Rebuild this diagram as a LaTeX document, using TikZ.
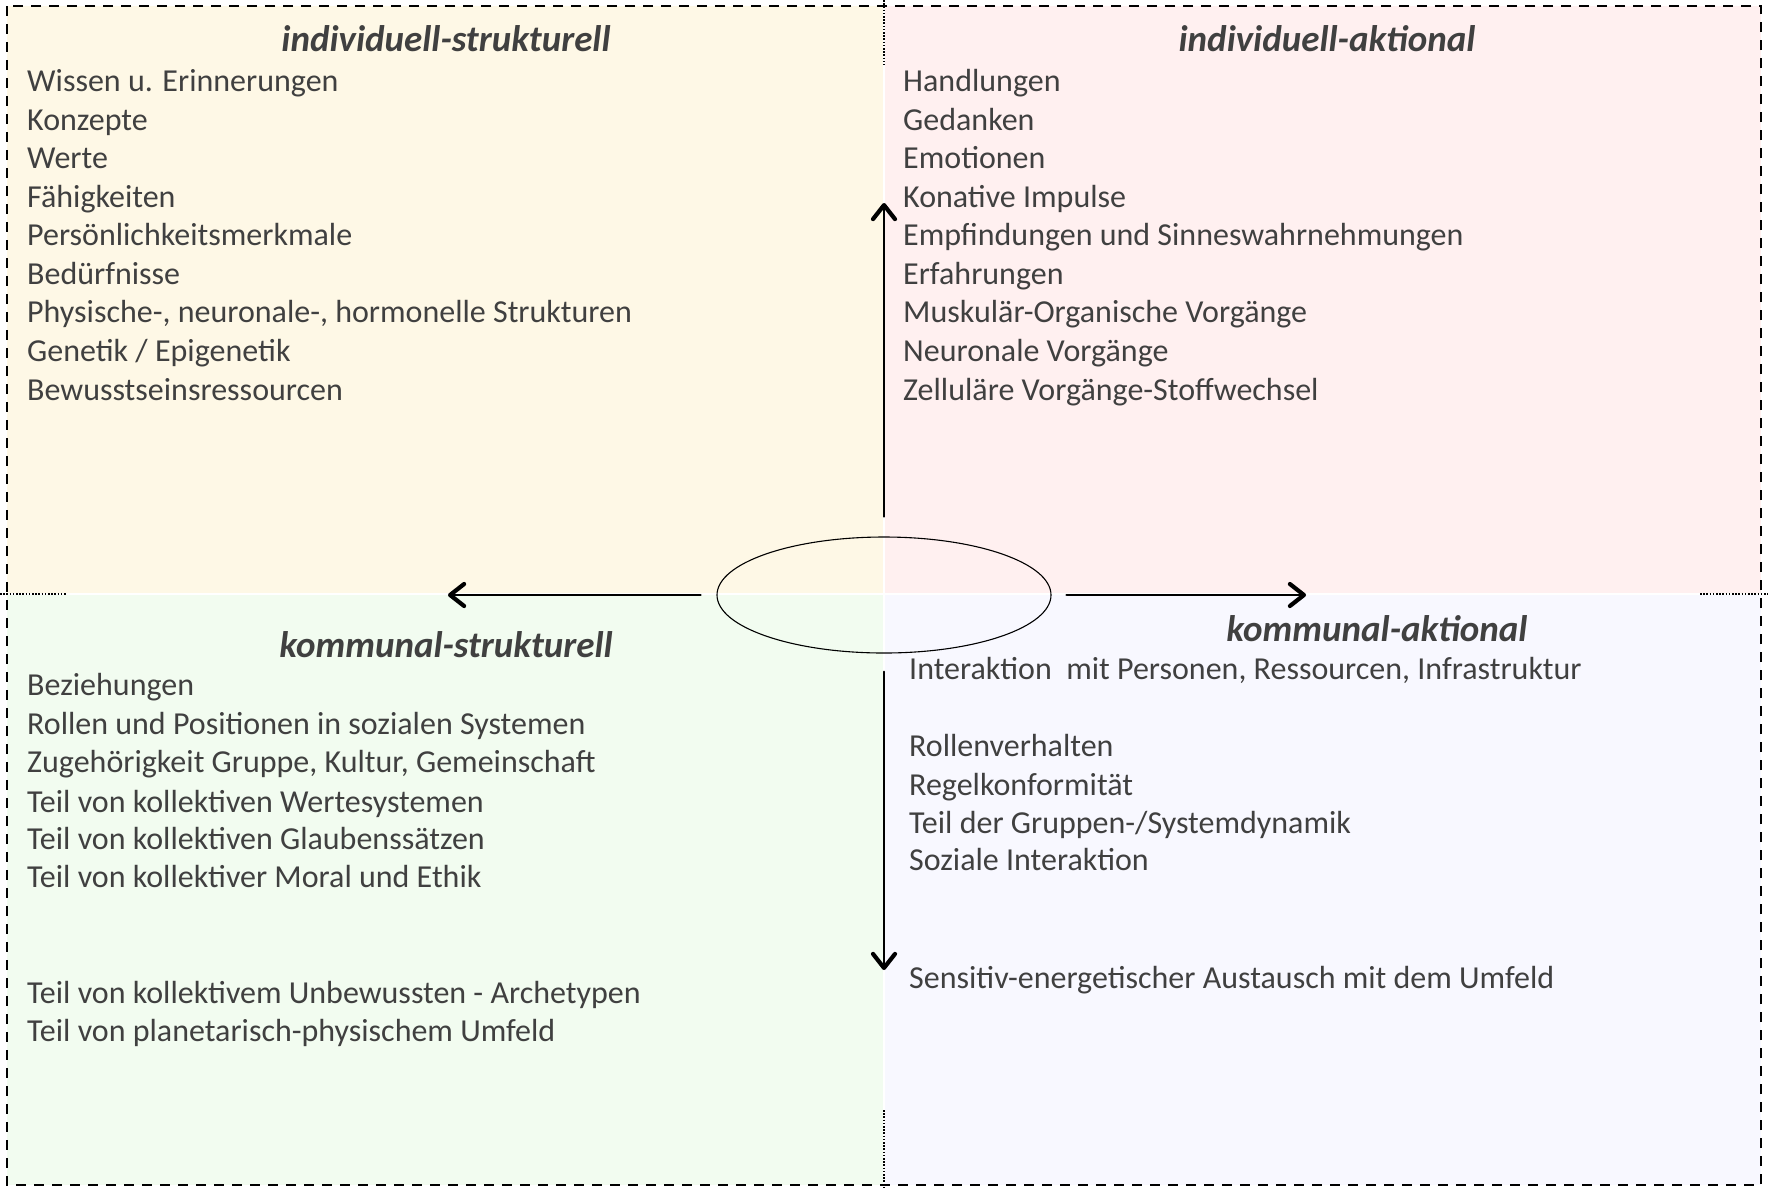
\documentclass[tikz,border=0pt]{standalone}
\usepackage{fontspec}
\setmainfont{Carlito}
\usetikzlibrary{arrows.meta,shapes.geometric}
\definecolor{txt}{HTML}{404040}
\definecolor{qTL}{HTML}{FEF8E6}
\definecolor{qTR}{HTML}{FFF0F0}
\definecolor{qBL}{HTML}{F2FCF0}
\definecolor{qBR}{HTML}{F8F8FF}
\begin{document}
\begin{tikzpicture}[x=1pt,y=-1pt,
  item/.style={anchor=base west, inner sep=0pt, text=txt, font=\fontsize{32}{38}\selectfont},
  head/.style={anchor=base, inner sep=0pt, text=txt, font=\fontsize{37}{42}\selectfont\bfseries\itshape},
  arr/.style={line width=2.6pt, line cap=round, -{Straight Barb[length=14pt,width=22pt,line width=4.2pt,line cap=round,line join=round]}},
  thinarr/.style={arr, line width=2pt},
  outer/.style={line width=2.8pt, dash pattern=on 10pt off 8pt},
  dots/.style={line width=1.6pt, dash pattern=on 1.6pt off 1.6pt},
  hub/.style={draw, ellipse, line width=1.1pt, inner sep=0pt, minimum width=334pt, minimum height=116pt}]
\useasboundingbox (0,0) rectangle (1768,1187);
\fill[white] (0,0) rectangle (1768,1187);
% quadrant fills
\fill[qTL] (7,6) rectangle (883,593);
\fill[qTR] (885,6) rectangle (1761,593);
\fill[qBL] (7,595) rectangle (883,1185);
\fill[qBR] (885,595) rectangle (1761,1185);
% outer dashed frame
\draw[outer] (7,6) rectangle (1761,1185);
% dotted divider stubs
\draw[dots] (884,0) -- (884,65);
\draw[dots] (884,1110) -- (884,1187);
\draw[dots] (0,594) -- (67,594);
\draw[dots] (1700,594) -- (1768,594);
% centre ellipse
\node[hub] (c) at (884,595) {};
\coordinate (lend) at (448,595);
\coordinate (rend) at (1306,595);
\coordinate (uend) at (884,203);
\coordinate (dend) at (884,970);
\draw[arr, shorten <=16pt] (c.west) -- (lend);
\draw[arr, shorten <=15pt] (c.east) -- (rend);
\draw[arr, shorten <=20pt] (c.north) -- (uend);
\draw[thinarr, shorten <=18pt] (c.south) -- (dend);
% headings
\node[head] (h1) at (446,51) {individuell-strukturell};
\node[head] (h2) at (1327,51) {individuell-aktional};
\node[head] (h3) at (446,657) {kommunal-strukturell};
\node[head] (h4) at (1377,641) {kommunal-aktional};
% top-left
\node[item] (a1) at (27,91) {Wissen u. Erinnerungen};
\node[item] (a2) at (27,130) {Konzepte};
\node[item] (a3) at (27,168) {Werte};
\node[item] (a4) at (27,207) {Fähigkeiten};
\node[item] (a5) at (27,245) {Persönlichkeitsmerkmale};
\node[item] (a6) at (27,284) {Bedürfnisse};
\node[item] (a7) at (27,322) {Physische-, neuronale-, hormonelle Strukturen};
\node[item] (a8) at (27,361) {Genetik / Epigenetik};
\node[item] (a9) at (27,400) {Bewusstseinsressourcen};
% top-right
\node[item] (b1) at (903,91) {Handlungen};
\node[item] (b2) at (903,130) {Gedanken};
\node[item] (b3) at (903,168) {Emotionen};
\node[item] (b4) at (903,207) {Konative Impulse};
\node[item] (b5) at (903,245) {Empfindungen und Sinneswahrnehmungen};
\node[item] (b6) at (903,284) {Erfahrungen};
\node[item] (b7) at (903,322) {Muskulär-Organische Vorgänge};
\node[item] (b8) at (903,361) {Neuronale Vorgänge};
\node[item] (b9) at (903,400) {Zelluläre Vorgänge-Stoffwechsel};
% bottom-left
\node[item] (d1) at (27,695) {Beziehungen};
\node[item] (d2) at (27,734) {Rollen und Positionen in sozialen Systemen};
\node[item] (d3) at (27,772) {Zugehörigkeit Gruppe, Kultur, Gemeinschaft};
\node[item] (d4) at (27,812) {Teil von kollektiven Wertesystemen};
\node[item] (d5) at (27,849) {Teil von kollektiven Glaubenssätzen};
\node[item] (d6) at (27,887) {Teil von kollektiver Moral und Ethik};
\node[item] (d7) at (27,1003) {Teil von kollektivem Unbewussten - Archetypen};
\node[item] (d8) at (27,1041) {Teil von planetarisch-physischem Umfeld};
% bottom-right
\node[item] (e1) at (909,679) {Interaktion\ \ mit Personen, Ressourcen, Infrastruktur};
\node[item] (e2) at (909,756) {Rollenverhalten};
\node[item] (e3) at (909,795) {Regelkonformität};
\node[item] (e4) at (909,833) {Teil der Gruppen-/Systemdynamik};
\node[item] (e5) at (909,870) {Soziale Interaktion};
\node[item] (e6) at (909,988) {Sensitiv-energetischer Austausch mit dem Umfeld};
\end{tikzpicture}
\end{document}
